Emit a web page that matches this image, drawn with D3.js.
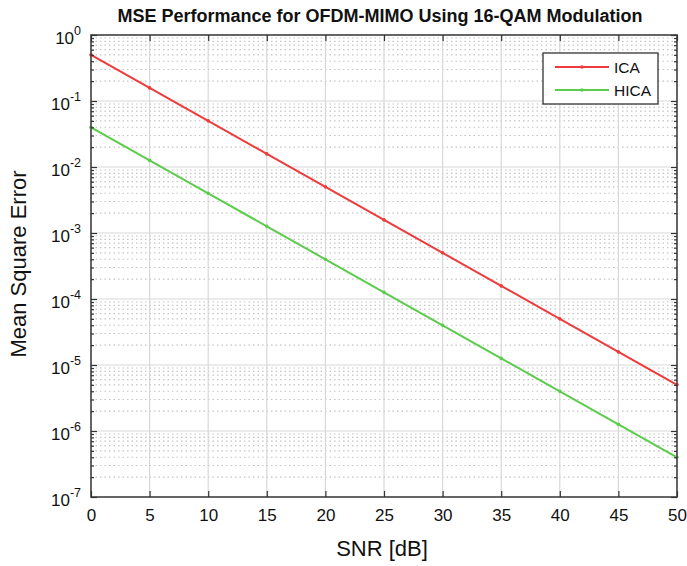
<!DOCTYPE html>
<html>
<head>
<meta charset="utf-8">
<script src="https://cdn.jsdelivr.net/npm/d3@7"></script>
<style>
  body { margin: 0; background: #fff; }
  text { font-family: "Liberation Sans", Arial, sans-serif; fill: #111; }
</style>
</head>
<body>
<div id="chart"></div>
<script>
// SNR points (dB)
const snr = [0, 5, 10, 15, 20, 25, 30, 35, 40, 45, 50];
// MSE values
const icaMse = [0.5, 0.158, 0.05, 0.0158, 0.005, 0.00158, 5e-4, 1.58e-4, 5e-5, 1.58e-5, 5e-6];
const hicaMse = [0.04, 0.0126, 0.004, 0.00126, 4e-4, 1.26e-4, 4e-5, 1.26e-5, 4e-6, 1.26e-6, 4e-7];
const xTicks = [0, 5, 10, 15, 20, 25, 30, 35, 40, 45, 50];
const yExponents = [0, -1, -2, -3, -4, -5, -6, -7];

const series = [
  { name: "ICA", values: icaMse, color: "#ee3b3b" },
  { name: "HICA", values: hicaMse, color: "#5ccc4c" }
];

const W = 687, H = 566;
const margin = { top: 35, right: 10, bottom: 69, left: 91 };
const width = W - margin.left - margin.right;
const height = H - margin.top - margin.bottom;

const svg = d3.select("#chart").append("svg")
  .attr("width", W).attr("height", H);

const g = svg.append("g")
  .attr("transform", "translate(" + margin.left + "," + margin.top + ")");

const x = d3.scaleLinear().domain([0, 50]).range([0, width]);
const y = d3.scaleLog().domain([1e-7, 1]).range([height, 0]);

// minor grid (dotted)
let minors = [];
for (let e = -7; e < 0; e++) {
  for (let m = 2; m <= 9; m++) minors.push(m * Math.pow(10, e));
}
g.append("g").selectAll("line").data(minors).enter().append("line")
  .attr("x1", 0).attr("x2", width)
  .attr("y1", d => y(d)).attr("y2", d => y(d))
  .attr("stroke", "#c4c4c4").attr("stroke-width", 1.2)
  .attr("stroke-dasharray", "1.5,3");

// major grid
g.append("g").selectAll("line").data(yExponents.map(e => Math.pow(10, e))).enter().append("line")
  .attr("x1", 0).attr("x2", width)
  .attr("y1", d => y(d)).attr("y2", d => y(d))
  .attr("stroke", "#d8d8d8").attr("stroke-width", 1.2);
g.append("g").selectAll("line").data(xTicks).enter().append("line")
  .attr("x1", d => x(d)).attr("x2", d => x(d))
  .attr("y1", 0).attr("y2", height)
  .attr("stroke", "#d8d8d8").attr("stroke-width", 1.2);

// lines
const line = d3.line().x((d, i) => x(snr[i])).y(d => y(d));
series.forEach(s => {
  g.append("path").datum(s.values)
    .attr("d", line)
    .attr("fill", "none")
    .attr("stroke", s.color)
    .attr("stroke-width", 2);
  g.append("g").selectAll("circle").data(s.values).enter().append("circle")
    .attr("cx", (d, i) => x(snr[i])).attr("cy", d => y(d))
    .attr("r", 1.8).attr("fill", s.color);
});

// frame with inward ticks (matlab style)
g.append("rect").attr("width", width).attr("height", height)
  .attr("fill", "none").attr("stroke", "#444").attr("stroke-width", 1.6);

const xAxis = d3.axisBottom(x).tickValues(xTicks).tickSize(-6).tickPadding(12).tickFormat(d3.format("d"));
const xg = g.append("g").attr("transform", "translate(0," + height + ")").call(xAxis);
g.append("g").call(d3.axisTop(x).tickValues(xTicks).tickSize(-6).tickFormat(""));

const yAxis = d3.axisLeft(y).tickValues(yExponents.map(e => Math.pow(10, e))).tickSize(-6).tickFormat("");
g.append("g").call(yAxis);
g.append("g").attr("transform", "translate(" + width + ",0)")
  .call(d3.axisRight(y).tickValues(yExponents.map(e => Math.pow(10, e))).tickSize(-6).tickFormat(""));
// minor y ticks
g.append("g").call(d3.axisLeft(y).tickValues(minors).tickSize(-3).tickFormat(""));
g.append("g").attr("transform", "translate(" + width + ",0)")
  .call(d3.axisRight(y).tickValues(minors).tickSize(-3).tickFormat(""));

g.selectAll(".domain").remove();
g.selectAll(".tick line").attr("stroke", "#333").attr("stroke-width", 1.2);
xg.selectAll("text").attr("font-size", 17).style("fill", "#111");

// y tick labels as 10^e
const yl = g.append("g");
yExponents.forEach(e => {
  const t = yl.append("text")
    .attr("x", -10).attr("y", y(Math.pow(10, e)) + 9)
    .attr("text-anchor", "end").attr("font-size", 17);
  t.append("tspan").text("10");
  t.append("tspan").attr("dy", -9).attr("font-size", 12.5).text(String(e));
});

// title and labels
svg.append("text").attr("x", margin.left + width / 2 - 4).attr("y", 22)
  .attr("text-anchor", "middle").attr("font-size", 18).attr("font-weight", "bold")
  .text("MSE Performance for OFDM-MIMO Using 16-QAM Modulation");
svg.append("text").attr("x", margin.left + width / 2 - 2).attr("y", 556)
  .attr("text-anchor", "middle").attr("font-size", 22).text("SNR [dB]");
svg.append("text").attr("transform", "translate(26," + (margin.top + height / 2 - 2) + ") rotate(-90)")
  .attr("text-anchor", "middle").attr("font-size", 22).text("Mean Square Error");

// legend
const lg = svg.append("g").attr("transform", "translate(543,53)");
lg.append("rect").attr("width", 115).attr("height", 51)
  .attr("fill", "#fff").attr("stroke", "#333").attr("stroke-width", 1.3);
series.forEach((s, i) => {
  const yy = 14 + i * 23;
  lg.append("line").attr("x1", 12).attr("x2", 66).attr("y1", yy).attr("y2", yy)
    .attr("stroke", s.color).attr("stroke-width", 2);
  lg.append("circle").attr("cx", 39).attr("cy", yy).attr("r", 1.8).attr("fill", s.color);
  lg.append("text").attr("x", 71).attr("y", yy + 5.5).attr("font-size", 15.5).text(s.name);
});
</script>
</body>
</html>
